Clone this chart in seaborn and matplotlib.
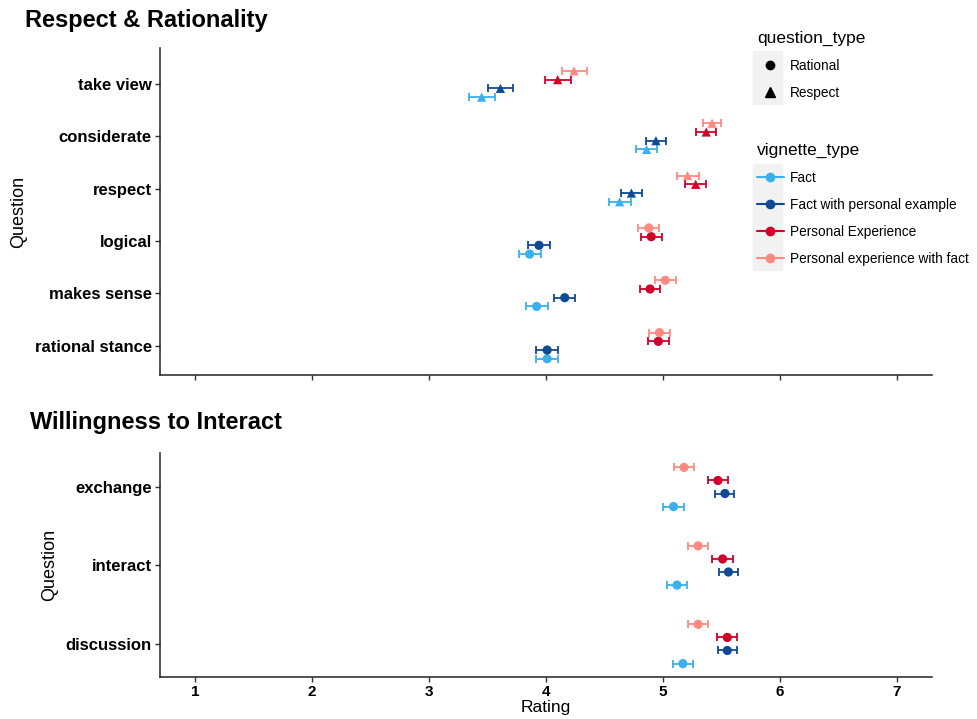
import numpy as np
import pandas as pd
import seaborn as sns
import matplotlib
matplotlib.use("Agg")
import matplotlib.pyplot as plt
from matplotlib.lines import Line2D
from matplotlib.patches import Rectangle

# ---- data ----
vignettes = ["Fact", "Fact with personal example", "Personal Experience",
             "Personal experience with fact"]
colors = ["#3CB0EA", "#0F4A94", "#D2002A", "#FF8A80"]

top_questions = ["take view", "considerate", "respect", "logical", "makes sense", "rational stance"]
top_qtype = ["Respect", "Respect", "Respect", "Rational", "Rational", "Rational"]
top_fact = [3.45, 4.86, 4.63, 3.86, 3.92, 4.01]
top_fact_pe = [3.61, 4.94, 4.73, 3.94, 4.16, 4.01]
top_pe = [4.10, 5.37, 5.28, 4.90, 4.89, 4.96]
top_pe_f = [4.24, 5.42, 5.21, 4.88, 5.02, 4.97]
# half widths of the error bars
top_fact_se = [0.11, 0.09, 0.095, 0.094, 0.094, 0.092]
top_fact_pe_se = [0.107, 0.088, 0.092, 0.093, 0.092, 0.094]
top_pe_se = [0.11, 0.087, 0.088, 0.088, 0.088, 0.091]
top_pe_f_se = [0.107, 0.074, 0.094, 0.09, 0.088, 0.088]

bot_questions = ["exchange", "interact", "discussion"]
bot_qtype = ["Rational", "Rational", "Rational"]
bot_fact = [5.09, 5.12, 5.17]
bot_fact_pe = [5.53, 5.56, 5.55]
bot_pe = [5.47, 5.51, 5.55]
bot_pe_f = [5.18, 5.30, 5.30]
bot_fact_se = [0.091, 0.085, 0.084]
bot_fact_pe_se = [0.081, 0.08, 0.083]
bot_pe_se = [0.087, 0.087, 0.084]
bot_pe_f_se = [0.088, 0.087, 0.088]

x_ticks = [1, 2, 3, 4, 5, 6, 7]

# dodge offsets (like position_dodge(width=0.67) after coord_flip)
dodge = dict(zip(vignettes, [0.25, 0.083, -0.083, -0.25]))


def make_frame(questions, qtypes, means, ses):
    rows = []
    for v, m, s in zip(vignettes, means, ses):
        for i, q in enumerate(questions):
            rows.append(dict(question=q, qtype=qtypes[i], vignette=v,
                             rating=m[i], se=s[i], ypos=i + dodge[v]))
    return pd.DataFrame(rows)


top_df = make_frame(top_questions, top_qtype,
                    [top_fact, top_fact_pe, top_pe, top_pe_f],
                    [top_fact_se, top_fact_pe_se, top_pe_se, top_pe_f_se])
bot_df = make_frame(bot_questions, bot_qtype,
                    [bot_fact, bot_fact_pe, bot_pe, bot_pe_f],
                    [bot_fact_se, bot_fact_pe_se, bot_pe_se, bot_pe_f_se])

sns.set_theme(style="ticks")
plt.rcParams['font.family'] = ['Liberation Sans', 'DejaVu Sans']
plt.rcParams['axes.edgecolor'] = '#222222'
plt.rcParams['xtick.color'] = '#333333'
plt.rcParams['ytick.color'] = '#333333'
plt.rcParams['text.color'] = 'black'
plt.rcParams['axes.labelcolor'] = 'black'

fig = plt.figure(figsize=(9.77, 7.19), dpi=100)
ax1 = fig.add_axes([160 / 977, 1 - 375 / 719, 772 / 977, 327 / 719])
ax2 = fig.add_axes([160 / 977, 1 - 676.7 / 719, 772 / 977, 224 / 719])

pal = dict(zip(vignettes, colors))


def draw(ax, df, questions, ylim):
    for v in vignettes:
        d = df[df.vignette == v]
        ax.errorbar(d.rating, d.ypos, xerr=d.se, fmt='none', ecolor=pal[v],
                    elinewidth=1.3, capsize=3.2, capthick=1.3, zorder=2)
    sns.scatterplot(data=df, x='rating', y='ypos', hue='vignette', style='qtype',
                    markers={'Rational': 'o', 'Respect': '^'}, palette=pal,
                    s=44, linewidth=0, legend=False, ax=ax, zorder=3)
    ax.set_yticks(range(len(questions)))
    ax.set_yticklabels(questions, fontweight='bold', fontsize=12, color='black')
    ax.set_ylim(*ylim)
    ax.set_xlim(0.7, 7.3)
    ax.set_xticks(x_ticks)
    ax.set_ylabel("Question", fontsize=13, color='black', labelpad=5)
    for sp in ['left', 'bottom']:
        ax.spines[sp].set_linewidth(1.1)
    ax.tick_params(length=3.5, width=1.0, pad=2.5)
    sns.despine(ax=ax)


draw(ax1, top_df, top_questions, (5.56, -0.688))
ax1.set_xticklabels([])
ax1.set_xlabel("")
draw(ax2, bot_df, bot_questions, (2.417, -0.437))
ax2.set_xticklabels([str(t) for t in x_ticks], fontweight='bold', fontsize=11, color='black')
ax2.set_xlabel("Rating", fontsize=12.5, color='black', labelpad=1)

fig.text(25 / 977, 1 - 20 / 719, "Respect & Rationality", fontsize=17, fontweight='bold',
         va='center', ha='left')
fig.text(30 / 977, 1 - 422 / 719, "Willingness to Interact", fontsize=17, fontweight='bold',
         va='center', ha='left')

# legends
fig.add_artist(Rectangle((753 / 977, 1 - 104 / 719), 29 / 977, 53 / 719,
                         transform=fig.transFigure, color='#F2F2F2', zorder=1))
fig.add_artist(Rectangle((753 / 977, 1 - 270 / 719), 29 / 977, 106 / 719,
                         transform=fig.transFigure, color='#F2F2F2', zorder=1))

qt_handles = [Line2D([], [], marker='o', color='black', linestyle='none', markersize=6),
              Line2D([], [], marker='^', color='black', linestyle='none', markersize=6.5)]
leg1 = fig.legend(qt_handles, ["Rational", "Respect"], title="question_type",
                  loc='upper left', bbox_to_anchor=(750 / 977, 1 - 24 / 719),
                  frameon=False, fontsize=9.8, title_fontsize=12.5, alignment='left',
                  borderpad=0, handlelength=2.0, handletextpad=0.45, labelspacing=0.95)
vt_handles = [Line2D([], [], marker='o', color=c, lw=1.5, markersize=6) for c in colors]
leg2 = fig.legend(vt_handles, vignettes, title="vignette_type",
                  loc='upper left', bbox_to_anchor=(750 / 977, 1 - 136 / 719),
                  frameon=False, fontsize=9.8, title_fontsize=12.5, alignment='left',
                  borderpad=0, handlelength=2.0, handletextpad=0.45, labelspacing=0.95)

fig.savefig("out.png", dpi=100)
